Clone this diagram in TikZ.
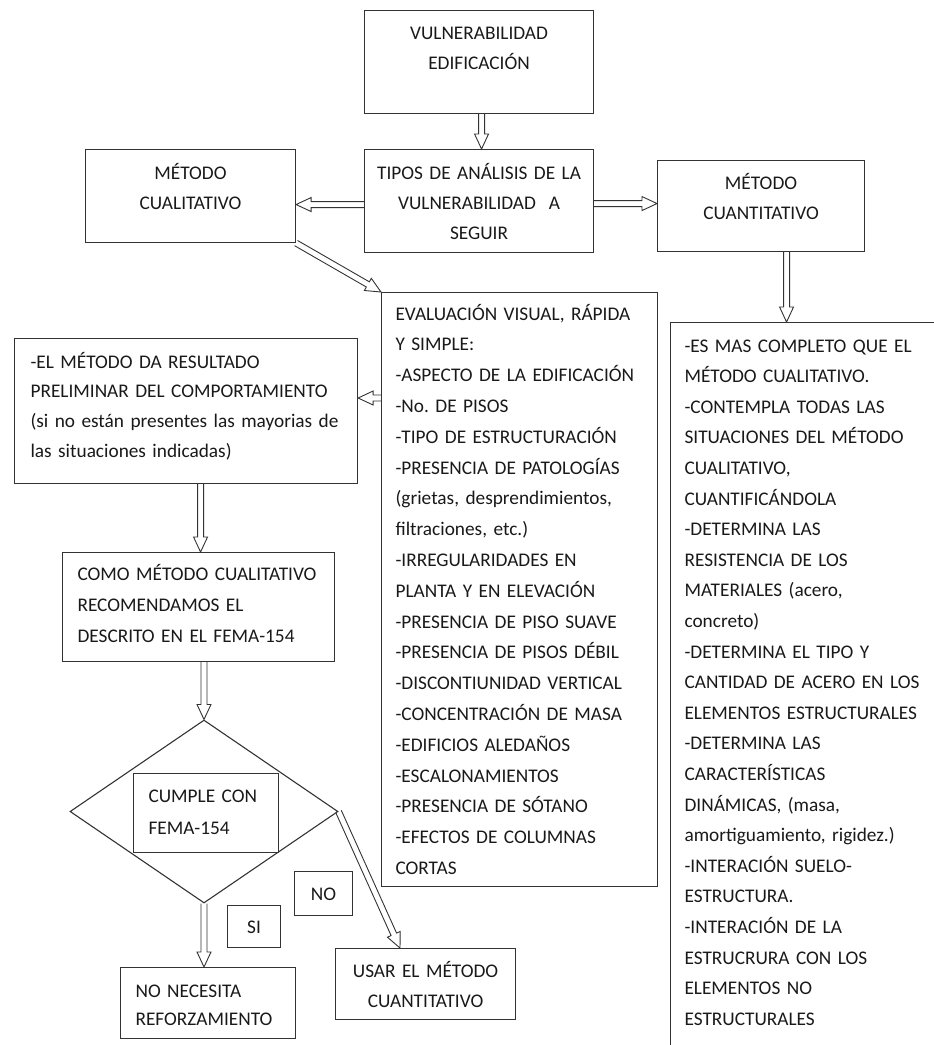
\documentclass[tikz,border=0pt]{standalone}
\usepackage{fontspec}
\setmainfont{Carlito}
\usetikzlibrary{calc,shapes.geometric}
\newcommand\fs[1]{\fontsize{19.3}{#1}\selectfont}
\begin{document}
\begin{tikzpicture}[x=1pt,y=1pt,
  box/.style={draw=black!80, line width=1.1pt, anchor=north west, inner ysep=0pt, text=black!90, font=\fs{30.7}},
  hollow/.style={draw=black!80, line width=0.9pt, to path={let \p1=(\tikztostart), \p2=(\tikztotarget),
    \n1={atan2(\y2-\y1,\x2-\x1)}, \n2={veclen(\x2-\x1,\y2-\y1)-15} in
    ($(\p1)+(\n1+90:3)$) -- ($(\p1)+(\n1:\n2)+(\n1+90:3)$) -- ($(\p1)+(\n1:\n2)+(\n1+90:7)$) -- (\p2)
    -- ($(\p1)+(\n1:\n2)+(\n1-90:7)$) -- ($(\p1)+(\n1:\n2)+(\n1-90:3)$) -- ($(\p1)+(\n1-90:3)$)}}]
\useasboundingbox (0,0) rectangle (934,-1045);
\clip (0,0) rectangle (934,-1045);

\node[box, align=center, inner xsep=0pt, text width=229pt, text height=28.5pt, text depth=74.5pt, font=\fs{30}] (vuln) at (364,-10) {VULNERABILIDAD\\EDIFICACIÓN};
\node[box, align=center, inner xsep=0pt, text width=229pt, text height=29.5pt, text depth=73.5pt, font=\fs{30}] (tipos) at (364,-149) {TIPOS DE ANÁLISIS DE LA\\VULNERABILIDAD\ \ A\\SEGUIR};
\node[box, align=center, inner xsep=0pt, text width=210pt, text height=29.5pt, text depth=63.5pt, font=\fs{30}] (cual) at (85,-149) {MÉTODO\\CUALITATIVO};
\node[box, align=center, inner xsep=0pt, text width=207pt, text height=28.5pt, text depth=62.5pt, font=\fs{30}] (cuant) at (657,-160) {MÉTODO\\CUANTITATIVO};

\node[box, align=left, inner xsep=14pt, text width=248pt, text height=27.5pt, text depth=566.5pt, font=\fs{30.8}] (eval) at (381,-292) {EVALUACIÓN VISUAL, RÁPIDA\\Y SIMPLE:\\-ASPECTO DE LA EDIFICACIÓN\\-No.\ DE PISOS\\-TIPO DE ESTRUCTURACIÓN\\-PRESENCIA DE PATOLOGÍAS\\(grietas, desprendimientos,\\filtraciones, etc.)\\-IRREGULARIDADES EN\\PLANTA Y EN ELEVACIÓN\\-PRESENCIA DE PISO SUAVE\\-PRESENCIA DE PISOS DÉBIL\\-DISCONTIUNIDAD VERTICAL\\-CONCENTRACIÓN DE MASA\\-EDIFICIOS ALEDAÑOS\\-ESCALONAMIENTOS\\-PRESENCIA DE SÓTANO\\-EFECTOS DE COLUMNAS\\CORTAS};
\node[box, align=left, inner xsep=14pt, text width=262pt, text height=29.5pt, text depth=708.5pt, font=\fs{30.6}] (cuantdet) at (670,-322) {-ES MAS COMPLETO QUE EL\\MÉTODO CUALITATIVO.\\-CONTEMPLA TODAS LAS\\SITUACIONES DEL MÉTODO\\CUALITATIVO,\\CUANTIFICÁNDOLA\\-DETERMINA LAS\\RESISTENCIA DE LOS\\MATERIALES (acero,\\concreto)\\-DETERMINA EL TIPO Y\\CANTIDAD DE ACERO EN LOS\\ELEMENTOS ESTRUCTURALES\\-DETERMINA LAS\\CARACTERÍSTICAS\\DINÁMICAS, (masa,\\amortiguamiento, rigidez.)\\-INTERACIÓN SUELO-\\ESTRUCTURA.\\-INTERACIÓN DE LA\\ESTRUCRURA CON LOS\\ELEMENTOS NO\\ESTRUCTURALES};

\node[box, align=left, inner xsep=16pt, text width=311pt, text height=29.5pt, text depth=115.5pt, font=\fs{29.7}] (res) at (14,-338) {-EL MÉTODO DA RESULTADO\\PRELIMINAR DEL COMPORTAMIENTO\\(si no están presentes las mayorias de\\las situaciones indicadas)};
\node[box, align=left, inner xsep=15pt, text width=242pt, text height=27.5pt, text depth=81.5pt, font=\fs{31}] (fema) at (62,-552) {COMO MÉTODO CUALITATIVO\\RECOMENDAMOS EL\\DESCRITO EN EL FEMA-154};

\node[diamond, draw=black!80, line width=1.1pt, minimum width=268pt, minimum height=183pt, inner sep=0pt] (decide) at (204,-811.5) {};
\node[box, fill=white, align=left, inner xsep=15pt, text width=115pt, text height=28.5pt, text depth=50.5pt, font=\fs{32}] (cumple) at (133,-773) {CUMPLE CON\\FEMA-154};

\node[box, align=center, inner xsep=0pt, text width=53pt, text height=27.5pt, text depth=14.5pt] (si) at (227,-905) {SI};
\node[box, align=center, inner xsep=0pt, text width=58pt, text height=28.5pt, text depth=15.5pt] (no) at (294,-871) {NO};
\node[box, align=left, inner xsep=15pt, text width=145pt, text height=29.5pt, text depth=41.5pt, font=\fs{28}] (nonec) at (120,-967) {NO NECESITA\\REFORZAMIENTO};
\node[box, align=center, inner xsep=0pt, text width=180pt, text height=28.5pt, text depth=42.5pt, font=\fs{30}] (usar) at (335,-948) {USAR EL MÉTODO\\CUANTITATIVO};

\draw[hollow] ([xshift=2.5pt]vuln.south) to ([xshift=2.5pt]tipos.north);
\draw[hollow] ([yshift=-3.5pt]tipos.west) to ([yshift=-8.5pt]cual.east);
\draw[hollow] ([yshift=-2.5pt]tipos.east) to ([yshift=2.5pt]cuant.west);
\draw[hollow] ([xshift=25.5pt]cuant.south) to ([xshift=25.5pt]cuant.south |- cuantdet.north);
\draw[hollow] (cual.south east) to (eval.north west);
\draw[hollow] ([yshift=-106pt]eval.north west) to ([yshift=-106pt]eval.north west -| res.east);
\draw[hollow] ([xshift=14.5pt]res.south) to ([xshift=14.5pt]res.south |- fema.north);
\draw[hollow] (fema.south -| decide.north) to (decide.north);
\draw[hollow] (decide.south) to (decide.south |- nonec.north);
\draw[hollow] (decide.east) to ([xshift=65pt]usar.north west);
\end{tikzpicture}
\end{document}
